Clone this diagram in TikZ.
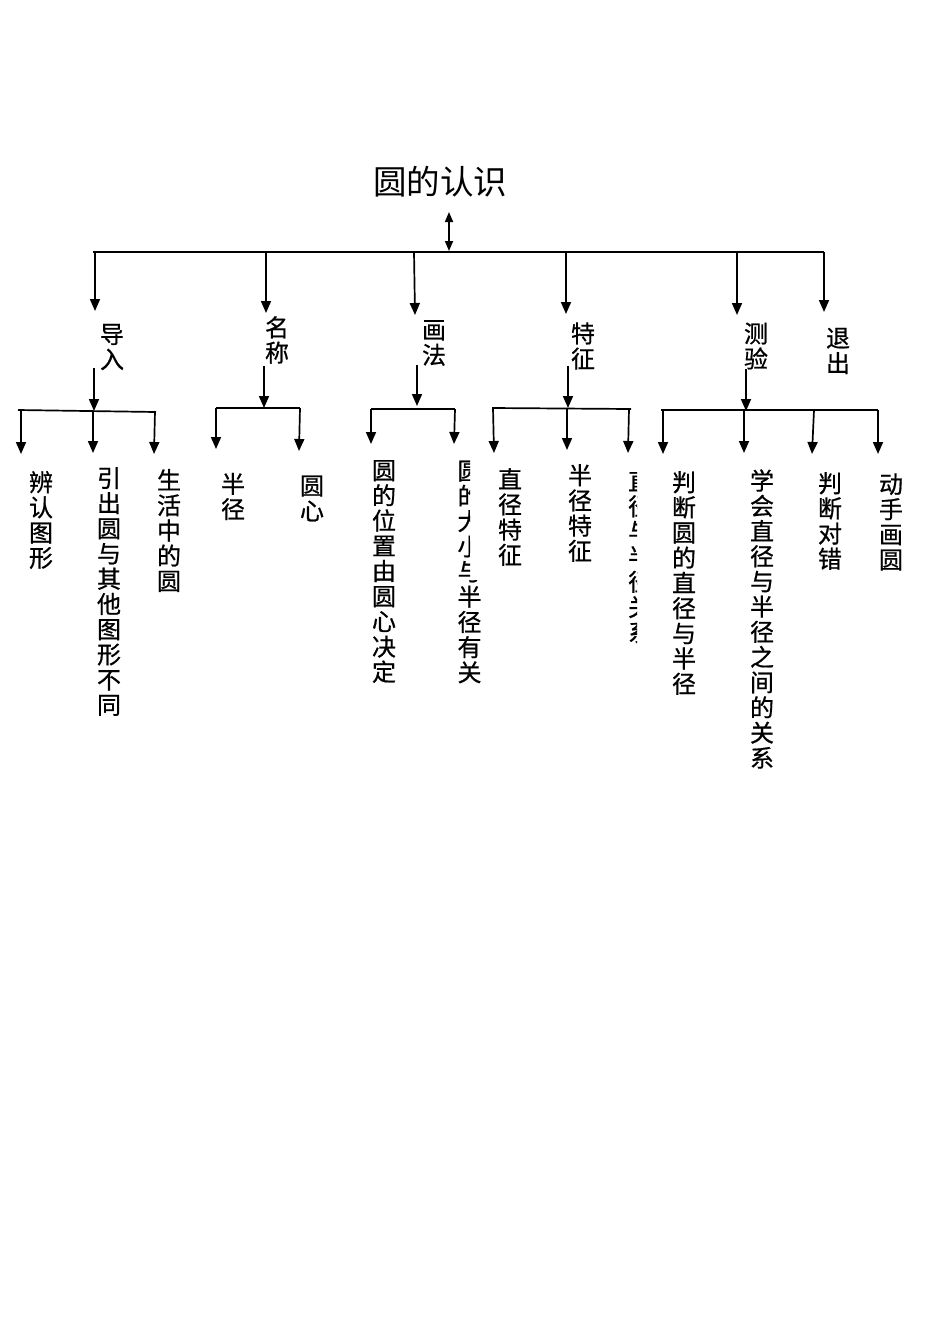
\documentclass[tikz,border=0pt]{standalone}
\usepackage{fontspec}
\newfontfamily\cjk{Noto Sans CJK SC}
\newfontfamily\cjkb[FakeBold=0.7]{Noto Sans CJK SC}
\usetikzlibrary{arrows.meta}
\begin{document}
\begin{tikzpicture}[x=1pt,y=-1pt,line width=1.7pt,
  arr/.style={-{Triangle[width=10pt,length=12pt]}},
  darr/.style={{Triangle[width=8pt,length=10pt]}-{Triangle[width=8pt,length=10pt]}},
  vtext/.style={font=\cjkb\fontsize{24}{25.2}\selectfont,align=center,inner sep=0pt},
  ttl/.style={font=\cjk\fontsize{33.5}{36}\selectfont,inner sep=0pt}]
\useasboundingbox[fill=white] (0,0) rectangle (950,1344);

% title
\node[ttl] (title) at (440,182) {圆的认识};
\coordinate (dtop) at (449,212);
\coordinate (dbot) at (449,251);
\draw[darr] (dtop) -- (dbot);

% top bar
\coordinate (tl) at (93,252);
\coordinate (tr) at (824,252);
\draw (tl) -- (tr);

% level-1 labels
\node[vtext] (daoru)  at (112,347) {导\\入};
\node[vtext] (mingc)  at (277,340) {名\\称};
\node[vtext] (huafa)  at (434,343) {画\\法};
\node[vtext] (tezh)   at (583,346) {特\\征};
\node[vtext] (ceyan)  at (756,346) {测\\验};
\node[vtext] (tuichu) at (838,351) {退\\出};

% level-1 arrows
\coordinate (a1) at (95,252);  \coordinate (b1) at (95,311);
\coordinate (a2) at (266,252); \coordinate (b2) at (266,313);
\coordinate (a3) at (414,252); \coordinate (b3) at (415,315);
\coordinate (a4) at (566,252); \coordinate (b4) at (566,314);
\coordinate (a5) at (737,252); \coordinate (b5) at (737,315);
\coordinate (a6) at (824,252); \coordinate (b6) at (824,312);
\foreach \i in {1,...,6} \draw[arr] (a\i) -- (b\i);

% sub bars and stems
\coordinate (s1) at (94,368);  \coordinate (h1) at (94,411);
\coordinate (s2) at (264,366); \coordinate (h2) at (264,408);
\coordinate (s3) at (417,365); \coordinate (h3) at (417,406);
\coordinate (s4) at (568,366); \coordinate (h4) at (568,408);
\coordinate (s5) at (746,369); \coordinate (h5) at (746,411);
\foreach \i in {1,...,5} \draw[arr] (s\i) -- (h\i);

\draw (18,410) -- (156,412);
\draw (216,408) -- (300,408);
\draw (371,409) -- (455,409);
\draw (492,408) -- (631,409);
\draw (661,410) -- (878,410);

% level-2 arrows
\coordinate (p11) at (21,410);  \coordinate (q11) at (21,454);
\coordinate (p12) at (93,411);  \coordinate (q12) at (93,453);
\coordinate (p13) at (155,411); \coordinate (q13) at (154,454);
\coordinate (p21) at (216,408); \coordinate (q21) at (216,449);
\coordinate (p22) at (300,408); \coordinate (q22) at (299,451);
\coordinate (p31) at (371,409); \coordinate (q31) at (371,444);
\coordinate (p32) at (455,409); \coordinate (q32) at (454,444);
\coordinate (p41) at (493,408); \coordinate (q41) at (494,453);
\coordinate (p42) at (567,408); \coordinate (q42) at (567,450);
\coordinate (p43) at (629,409); \coordinate (q43) at (628,453);
\coordinate (p51) at (663,410); \coordinate (q51) at (663,454);
\coordinate (p52) at (744,410); \coordinate (q52) at (744,453);
\coordinate (p53) at (814,410); \coordinate (q53) at (812,454);
\coordinate (p54) at (878,410); \coordinate (q54) at (878,454);
\foreach \p in {11,12,13,21,22,31,32,41,42,43,51,52,53,54} \draw[arr] (p\p) -- (q\p);

% leaves
\node[vtext] (l11) at (41,520)    {辨\\认\\图\\形};
\node[vtext] (l12) at (109,591.5) {引\\出\\圆\\与\\其\\他\\图\\形\\不\\同};
\node[vtext] (l13) at (169,530.5) {生\\活\\中\\的\\圆};
\node[vtext] (l21) at (233,496.5) {半\\径};
\node[vtext] (l22) at (312,498.5) {圆\\心};
\node[vtext] (l31) at (384,571.5) {圆\\的\\位\\置\\由\\圆\\心\\决\\定};
\begin{scope}
\clip (440,440) -- (470,440) -- (470,580) -- (495,580) -- (495,700) -- (440,700) -- cycle;
\node[vtext] (l32) at (469.5,572) {圆\\的\\大\\小\\与\\半\\径\\有\\关};
\end{scope}
\node[vtext] (l41) at (510,517)   {直\\径\\特\\征};
\node[vtext] (l42) at (580,513)   {半\\径\\特\\征};
\begin{scope}
\clip (600,440) rectangle (637,700);
\node[vtext] (l43) at (640,556.5) {直\\径\\与\\半\\径\\关\\系};
\end{scope}
\node[vtext] (l51) at (684,583)   {判\\断\\圆\\的\\直\\径\\与\\半\\径};
\node[vtext] (l52) at (762,619)   {学\\会\\直\\径\\与\\半\\径\\之\\间\\的\\关\\系};
\node[vtext] (l53) at (830,521)   {判\\断\\对\\错};
\node[vtext] (l54) at (891,522)   {动\\手\\画\\圆};
\end{tikzpicture}
\end{document}
